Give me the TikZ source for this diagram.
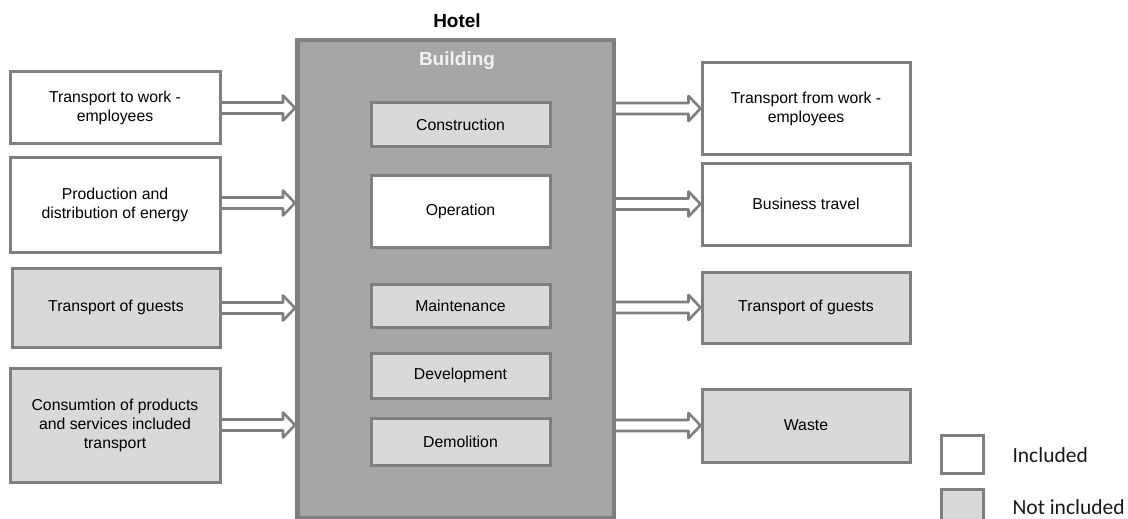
\documentclass[tikz,border=0pt]{standalone}
\usepackage{fontspec}
\setmainfont{Liberation Sans}
\newfontfamily\legendfont{Carlito}
\usetikzlibrary{calc}
\definecolor{bordergray}{HTML}{7F7F7F}
\definecolor{notinc}{HTML}{D9D9D9}
\definecolor{bldg}{HTML}{A6A6A6}
\definecolor{bldglabel}{HTML}{F2F2F2}
% hollow block arrow from #1 to #2 (horizontal, pointing right)
\newcommand\hollowarrow[2]{%
  \draw[flow] ($(#1)+(0,-5.5)$) -- ($(#2)+(-13.5,-5.5)$) -- ($(#2)+(-13.5,-12.5)$) -- ($(#2)+(-1.5,0)$)
    -- ($(#2)+(-13.5,12.5)$) -- ($(#2)+(-13.5,5.5)$) -- ($(#1)+(0,5.5)$);}
\begin{document}
\begin{tikzpicture}[x=1pt,y=-1pt,
  box/.style={draw=bordergray, line width=3pt, inner sep=2pt, align=center,
    font=\fontsize{15.8}{19}\selectfont, text=black},
  incbox/.style={box, fill=white},
  notbox/.style={box, fill=notinc},
  flow/.style={draw=bordergray, line width=2.6pt, fill=white, line join=round},
  legtext/.style={font=\legendfont\fontsize{21.5}{24}\selectfont, anchor=west, text=black!90}]
\useasboundingbox (0,0) rectangle (1128,519);
% building
\node[draw=bordergray, line width=3pt, fill=bldg, minimum width=315pt, minimum height=476pt] (B) at (455.5,279) {};
\node[font=\bfseries\fontsize{19}{22}\selectfont] (hotel) at (457,21) {Hotel};
\node[font=\bfseries\fontsize{19}{22}\selectfont, text=bldglabel] (blabel) at (457,61) {Building};
% inner boxes
\node[notbox, minimum width=179pt, minimum height=43pt] (cons) at (460.5,124.5) {Construction};
\node[incbox, minimum width=179pt, minimum height=72pt] (oper) at (460.5,211) {Operation};
\node[notbox, minimum width=179pt, minimum height=43pt] (maint) at (460.5,305.5) {Maintenance};
\node[notbox, minimum width=179pt, minimum height=45pt] (dev) at (460.5,375.5) {Development};
\node[notbox, minimum width=179pt, minimum height=47pt] (demo) at (460.5,441.5) {Demolition};
% arrows (drawn before side boxes so box borders cover the open ends)
\coordinate (L1e) at (220,108); \coordinate (L2e) at (220,203);
\coordinate (L3e) at (220,308); \coordinate (L4e) at (220,425);
\coordinate (R1w) at (702,108.5); \coordinate (R2w) at (702,204);
\coordinate (R3w) at (702,307.5); \coordinate (R4w) at (702,425.5);
\hollowarrow{L1e}{L1e -| B.west}
\hollowarrow{L2e}{L2e -| B.west}
\hollowarrow{L3e}{L3e -| B.west}
\hollowarrow{L4e}{L4e -| B.west}
\hollowarrow{B.east |- R1w}{R1w}
\hollowarrow{B.east |- R2w}{R2w}
\hollowarrow{B.east |- R3w}{R3w}
\hollowarrow{B.east |- R4w}{R4w}
% left boxes
\node[incbox, minimum width=210pt, minimum height=71pt] (L1) at (115,107.5) {Transport to work -\\employees};
\node[incbox, minimum width=210pt, minimum height=95pt] (L2) at (115,204.5) {Production and\\distribution of energy};
\node[notbox, minimum width=208pt, minimum height=79pt] (L3) at (116,307.5) {Transport of guests};
\node[notbox, minimum width=210pt, minimum height=114pt] (L4) at (115,425) {Consumtion of products\\and services included\\transport};
% right boxes
\node[incbox, minimum width=208pt, minimum height=91pt] (R1) at (806,108.5) {Transport from work -\\employees};
\node[incbox, minimum width=208pt, minimum height=82pt] (R2) at (806,204) {Business travel};
\node[notbox, minimum width=208pt, minimum height=71pt] (R3) at (806,307.5) {Transport of guests};
\node[notbox, minimum width=208pt, minimum height=73pt] (R4) at (806,425.5) {Waste};
% redraw building border over arrow ends
\draw[draw=bordergray, line width=3pt] (B.north west) rectangle (B.south east);
% legend
\node[draw=bordergray, line width=3pt, fill=white, minimum width=42pt, minimum height=38pt] (leg1) at (962,454) {};
\node[draw=bordergray, line width=3pt, fill=notinc, minimum width=42pt, minimum height=40pt] (leg2) at (962,509) {};
\node[legtext] (leg1t) at (1009,455) {Included};
\node[legtext] (leg2t) at (1009,507) {Not included};
\end{tikzpicture}
\end{document}
